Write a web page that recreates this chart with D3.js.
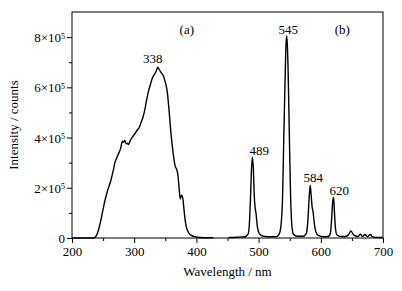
<!DOCTYPE html>
<html lang="en">
<head>
<meta charset="utf-8">
<title>Excitation / emission spectra</title>
<script src="https://cdn.jsdelivr.net/npm/d3@7"></script>
<style>
  body { margin: 0; background: #fff; }
</style>
</head>
<body>
<script>

// spectrum (a): excitation, wavelength in nm, intensity in 1e5 counts
var waveA = [200, 220, 234, 238, 241, 244, 248, 253, 258, 262, 266, 269, 272, 275, 278, 281, 283, 285, 287, 289, 291, 294, 297, 301, 305, 308, 311, 314, 317, 320, 323, 326, 329, 332, 335, 338, 340, 343, 347, 350, 353, 356, 359, 362, 366, 368, 370, 372, 374, 376, 378, 380, 382, 384, 386, 390, 395, 402, 412, 427];
var intensityA = [0, 0, 0, 0.05, 0.2, 0.45, 0.9, 1.5, 1.95, 2.25, 2.65, 3.0, 3.2, 3.37, 3.55, 3.85, 3.82, 3.88, 3.75, 3.78, 3.72, 3.9, 4.02, 4.15, 4.3, 4.4, 4.6, 4.8, 5.1, 5.5, 5.85, 6.1, 6.35, 6.5, 6.62, 6.8, 6.72, 6.6, 6.45, 6.2, 5.85, 5.1, 4.2, 3.5, 2.85, 2.75, 2.55, 2.05, 1.55, 1.7, 1.6, 1.15, 0.7, 0.42, 0.28, 0.14, 0.07, 0.03, 0.01, 0.01];

// spectrum (b): emission
var waveB = [452, 465, 478, 483, 485, 487, 488.5, 490, 491.5, 493, 494.5, 496, 498, 501, 506, 515, 528, 533, 536, 538.5, 540.5, 542.5, 544, 545, 546, 547.5, 549.5, 551.5, 553.5, 556, 562, 572, 577, 579.5, 581.5, 583, 584.5, 586, 587.5, 589.5, 592, 596, 604, 612, 615.5, 617.5, 619, 620.5, 622, 623.5, 626, 632, 640, 645, 648.5, 652, 656, 660, 663.5, 667, 671, 675, 679.5, 683, 688, 700];
var intensityB = [0.02, 0.03, 0.05, 0.15, 0.5, 1.6, 2.7, 3.22, 2.8, 1.7, 1.2, 0.95, 0.45, 0.18, 0.08, 0.05, 0.05, 0.15, 0.5, 1.6, 4.0, 6.2, 7.7, 8.05, 7.8, 6.6, 4.0, 1.6, 0.5, 0.15, 0.07, 0.07, 0.2, 0.8, 1.7, 2.1, 1.7, 1.25, 1.05, 0.6, 0.25, 0.1, 0.05, 0.06, 0.2, 0.8, 1.4, 1.62, 1.0, 0.4, 0.12, 0.06, 0.06, 0.15, 0.28, 0.15, 0.08, 0.06, 0.15, 0.06, 0.14, 0.05, 0.14, 0.05, 0.02, 0.02];

// tick values
var xTicks = [200, 300, 400, 500, 600, 700];
var xMinorTicks = [250, 350, 450, 550, 650];
var yTicks = [0, 2, 4, 6, 8];
var yMinorTicks = [1, 3, 5, 7];

// peak and panel labels: [wavelength, intensity, text]
var labels = [
  [330, 6.98, "338"],
  [547.6, 8.13, "545"],
  [501, 3.32, "489"],
  [588, 2.23, "584"],
  [629.7, 1.73, "620"],
  [384.6, 8.13, "(a)"],
  [634.5, 8.13, "(b)"]
];

var FONT = "Liberation Serif";

/*********************************************************************/
// Canvas

var width = 402, height = 291;
var margin = {left: 72, right: 19, top: 12, bottom: 53};

var svg = d3.select("body")
  .append("svg")
  .attr("width", width)
  .attr("height", height);

var x = d3.scaleLinear().domain([200, 700]).range([margin.left, width - margin.right]);
var y = d3.scaleLinear().domain([0, 9]).range([height - margin.bottom, margin.top]);

/*********************************************************************/
// Axes

var xAxis = svg.append("g")
  .attr("transform", "translate(0," + y(0) + ")")
  .call(d3.axisBottom(x).tickValues(xTicks).tickSize(5).tickPadding(4).tickSizeOuter(0));
svg.append("g")
  .attr("transform", "translate(0," + y(0) + ")")
  .call(d3.axisBottom(x).tickValues(xMinorTicks).tickSize(3).tickFormat("").tickSizeOuter(0));

var yAxis = svg.append("g")
  .attr("transform", "translate(" + x(200) + ",0)")
  .call(d3.axisLeft(y).tickValues(yTicks).tickSize(5).tickPadding(2).tickSizeOuter(0).tickFormat(""));
svg.append("g")
  .attr("transform", "translate(" + x(200) + ",0)")
  .call(d3.axisLeft(y).tickValues(yMinorTicks).tickSize(3).tickFormat("").tickSizeOuter(0));

svg.selectAll("g").attr("font-family", FONT).attr("font-size", 13);
svg.selectAll(".domain").remove();
svg.selectAll(".tick line").attr("stroke", "#000").attr("stroke-width", 1);

xAxis.selectAll("text").attr("fill", "#000");

// y tick labels with superscript exponent
yAxis.selectAll(".tick").each(function(d) {
  var t = d3.select(this).select("text")
    .attr("x", -7)
    .attr("dy", "0.35em")
    .attr("fill", "#000");
  if (d === 0) { t.text("0"); return; }
  t.text(null);
  t.append("tspan").text(d + "\u00d710");
  t.append("tspan").attr("dy", "-0.45em").attr("font-size", 8).text("5");
});

// frame
svg.append("rect")
  .attr("x", x(200))
  .attr("y", y(9))
  .attr("width", x(700) - x(200))
  .attr("height", y(0) - y(9))
  .attr("fill", "none")
  .attr("stroke", "#000")
  .attr("stroke-width", 1);

/*********************************************************************/
// Curves

var line = d3.line()
  .x(function(d) { return x(d[0]); })
  .y(function(d) { return y(d[1]); })
  .curve(d3.curveMonotoneX);

[[waveA, intensityA], [waveB, intensityB]].forEach(function(s) {
  svg.append("path")
    .datum(d3.zip(s[0], s[1]))
    .attr("d", line)
    .attr("fill", "none")
    .attr("stroke", "#000")
    .attr("stroke-width", 1.4)
    .attr("stroke-linejoin", "round");
});

/*********************************************************************/
// Labels

var txt = svg.append("g")
  .attr("font-family", FONT)
  .attr("font-size", 13);

txt.selectAll(".peakLabel")
  .data(labels)
  .enter()
  .append("text")
  .attr("class", "peakLabel")
  .attr("x", function(d) { return x(d[0]); })
  .attr("y", function(d) { return y(d[1]); })
  .attr("text-anchor", "middle")
  .text(function(d) { return d[2]; });

txt.append("text")
  .attr("x", (x(200) + x(700)) / 2)
  .attr("y", 276)
  .attr("text-anchor", "middle")
  .text("Wavelength / nm");

txt.append("text")
  .attr("transform", "translate(18," + (y(0) + y(9)) / 2 + ") rotate(-90)")
  .attr("text-anchor", "middle")
  .text("Intensity / counts");

</script>
</body>
</html>
